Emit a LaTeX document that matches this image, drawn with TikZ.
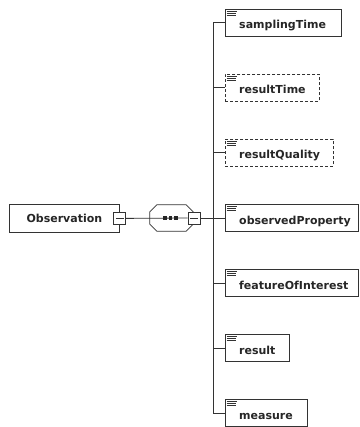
\documentclass[tikz,border=0pt]{standalone}
\usepackage{fontspec}
\setmainfont{DejaVu Sans}
\usetikzlibrary{calc}

\begin{document}
\begin{tikzpicture}[x=1pt,y=-1pt,
  ink/.style={draw=black!80, line width=0.8pt},
  elem/.style={ink, fill=white, anchor=north west, minimum height=27pt, inner sep=0pt},
  opt/.style={elem, dash pattern=on 3pt off 2pt},
  lbl/.style={font=\bfseries\fontsize{11}{13}\selectfont, text=black!85, inner sep=0pt},
  collapse/.style={ink, fill=white, minimum size=12pt, inner sep=0pt,
    path picture={\draw[black!80, line width=0.7pt]
      ([xshift=2pt]path picture bounding box.west) --
      ([xshift=-2pt]path picture bounding box.east);}},
  seqdot/.style={fill=black!85, minimum size=3.4pt, inner sep=0pt},
]
\useasboundingbox (0,0) rectangle (359,427);

% root element
\node[elem, minimum width=110pt, minimum height=28pt] (obs) at (9,204) {};
\node[lbl] (obsl) at (obs.center) {Observation};
\node[collapse] (obsm) at (obs.east) {};

% sequence compositor (octagon)
\node[minimum width=43pt, minimum height=26pt, inner sep=0pt] (seq) at (171.5,218) {};
\draw[ink, fill=white]
  ([xshift=7pt]seq.north west) -- ([xshift=-7pt]seq.north east) --
  ([yshift=-7pt]seq.north east) -- ([yshift=7pt]seq.south east) --
  ([xshift=-7pt]seq.south east) -- ([xshift=7pt]seq.south west) --
  ([yshift=7pt]seq.south west) -- ([yshift=-7pt]seq.north west) -- cycle;
\node[collapse] (seqm) at (194,218) {};
\draw[ink] (obsm.east) -- (seqm.west);
\node[seqdot] (d1) at (165,218) {};
\node[seqdot] (d2) at (170.5,218) {};
\node[seqdot] (d3) at (176,218) {};

% junction of the child connectors
\coordinate (junc) at (213,218);
\draw[ink] (seqm.east) -- (junc);

% child elements
\foreach \n/\t/\w/\s [count=\i from 0] in {
    st/samplingTime/116/elem,
    rt/resultTime/94/opt,
    rq/resultQuality/108/opt,
    op/observedProperty/133/elem,
    fi/featureOfInterest/133/elem,
    rs/result/64/elem,
    ms/measure/82/elem} {
  \node[\s, minimum width=\w pt] (\n) at (225,9+65*\i) {};
  % element icon
  \draw[black!80, line width=0.8pt]
    ($(\n.north west)+(1.5,2)$) -- ++(10.5,0)
    ($(\n.north west)+(1.5,4.2)$) -- ++(9,0)
    ($(\n.north west)+(1.5,6.4)$) -- ++(9,0);
  \node[lbl, anchor=base west] (\n l) at ($(\n.south west)+(14,-7.8)$) {\t};
  \draw[ink] (\n.west) -- (\n.west -| junc);
}
\draw[ink] (st.west -| junc) -- (ms.west -| junc);
\end{tikzpicture}
\end{document}
